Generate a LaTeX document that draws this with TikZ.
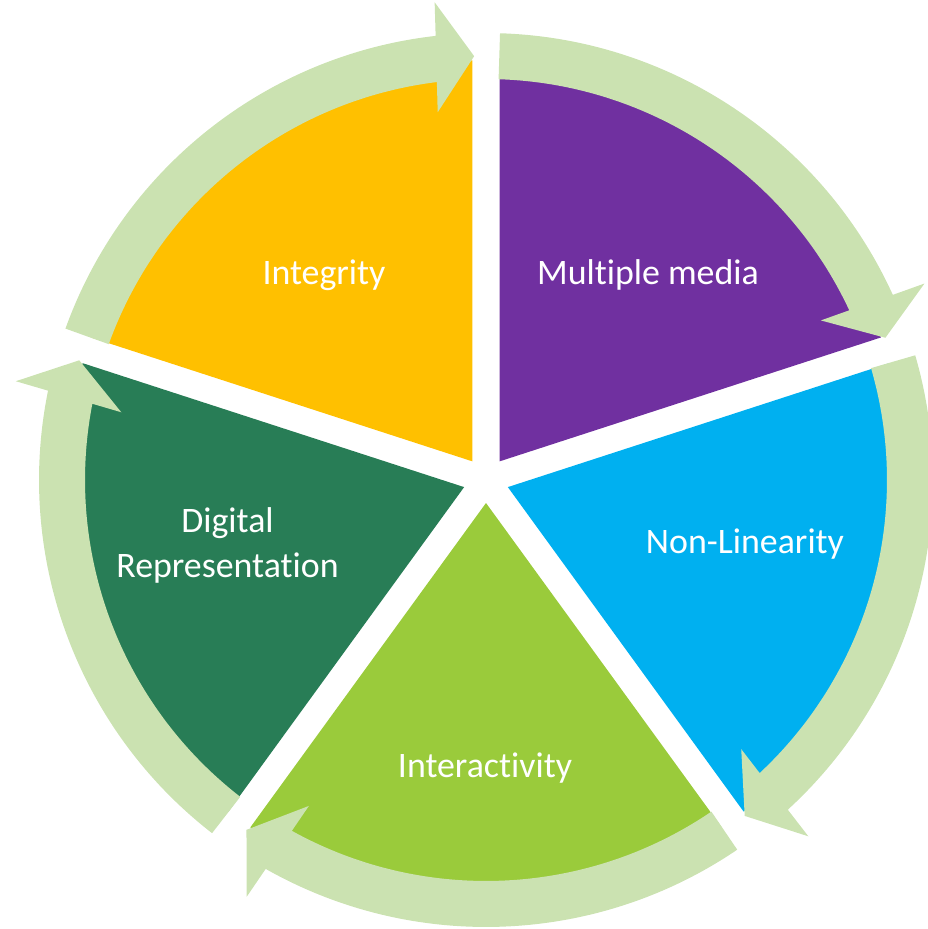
\documentclass[tikz,border=0pt]{standalone}
\usepackage{fontspec}
\setmainfont{Carlito}[Ligatures=NoCommon]
\definecolor{cyellow}{HTML}{FFC000}
\definecolor{cpurple}{HTML}{7030A0}
\definecolor{cblue}{HTML}{00B0F0}
\definecolor{clgreen}{HTML}{9ACB3B}
\definecolor{cdgreen}{HTML}{287D56}
\definecolor{carrow}{HTML}{CBE2B1}
\begin{document}
\begin{tikzpicture}[x=1bp,y=1bp,
  lbl/.style={text=white,font=\fontsize{36}{42}\selectfont,anchor=base,inner sep=0pt},
  arrowshape/.style={fill=carrow,draw=none}]
\useasboundingbox (-486,-449) rectangle (442,480);
% wedges: bisector angle, colour
\foreach \phi/\col in {126/cyellow,54/cpurple,-18/cblue,-90/clgreen,-162/cdgreen}{
  \fill[\col] (\phi:23) -- ++(\phi+36:401) arc[start angle=\phi+36, end angle=\phi-36, radius=401] -- cycle;
}
% arrows: boundary angle b; tail at b-1.8, tip at b-70.4
\foreach \b in {162,90,18,-54,-126}{
  \pgfmathsetmacro{\t}{\b-70.4}
  \pgfmathsetmacro{\s}{\b-1.8-\t}
  \begin{scope}[rotate=\t]
    \fill[arrowshape] (\s:447) arc[start angle=\s, end angle=4.87, radius=447]
      -- (479,38) -- (424,0) -- (369,38) -- (5.44:401)
      arc[start angle=5.44, end angle=\s, radius=401] -- cycle;
  \end{scope}
}
\node[lbl] (integrity) at (-162,195) {Integrity};
\node[lbl] (media) at (162,195) {Multiple media};
\node[lbl] (nonlin) at (259,-73) {Non-Linearity};
\node[lbl] (inter) at (-1,-297) {Interactivity};
\node[lbl] (digital) at (-258.5,-52) {Digital};
\node[lbl] (repr) at (-258.5,-97) {Representation};
\end{tikzpicture}
\end{document}
